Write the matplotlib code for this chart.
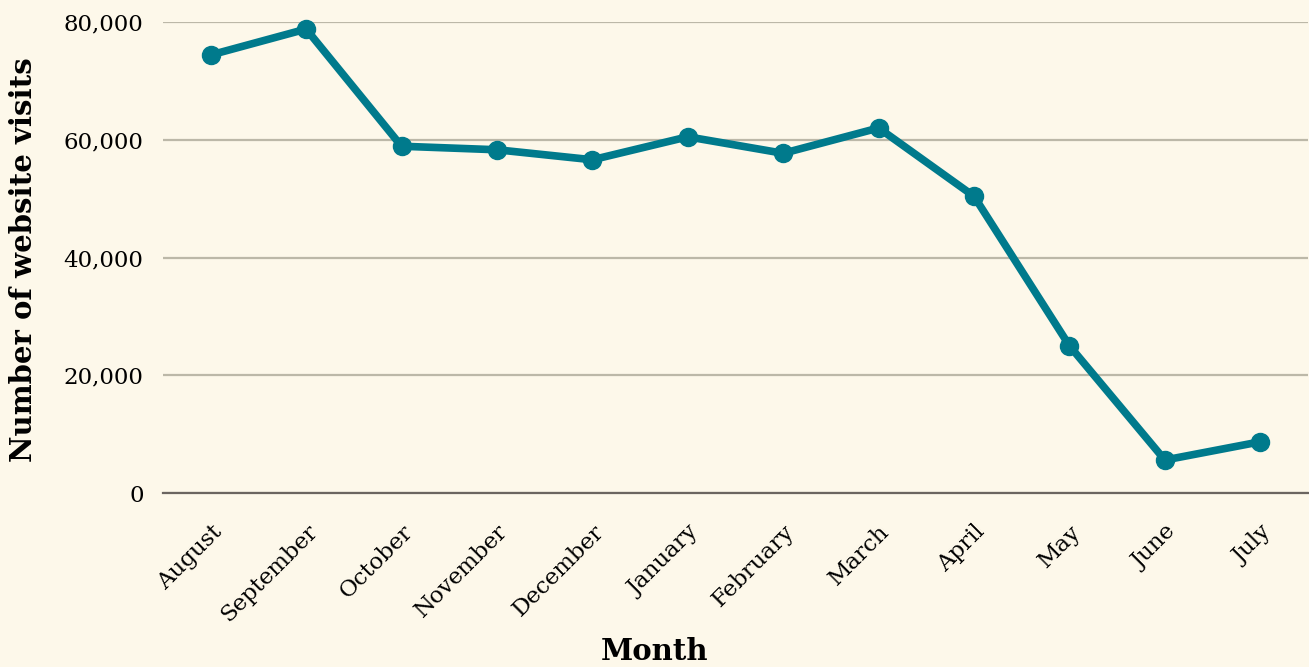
import matplotlib.pyplot as plt
import matplotlib.transforms as mtransforms

# Data
months = ['August', 'September', 'October', 'November', 'December', 'January',
          'February', 'March', 'April', 'May', 'June', 'July']
visits = [74400, 78800, 58900, 58300, 56600, 60500, 57700, 62000, 50400, 25000, 5600, 8700]
y_ticks = [0, 20000, 40000, 60000, 80000]

bg = '#fdf8ea'
teal = '#007a8c'

plt.rcParams['font.family'] = ['DejaVu Serif']

fig = plt.figure(figsize=(13.09, 6.67), dpi=100, facecolor=bg)
ax = fig.add_axes([163 / 1309, 1 - 493 / 667, (1308 - 163) / 1309, (493 - 22) / 667])
ax.set_facecolor(bg)

x = list(range(len(months)))
ax.plot(x, visits, color=teal, linewidth=5.5, marker='o', markersize=13,
        solid_capstyle='round', solid_joinstyle='round', clip_on=False, zorder=3)

ax.set_xlim(-0.5, len(months) - 0.5)
ax.set_ylim(0, 80000)
ax.set_yticks(y_ticks)
ax.set_yticklabels([f'{v:,}' for v in y_ticks], fontsize=16.5)
ax.set_xticks(x)
ax.set_xticklabels(months, fontsize=16.5, rotation=45, ha='right', rotation_mode='anchor')
offset = mtransforms.ScaledTranslation(18 / 100, 0, fig.dpi_scale_trans)
for lab in ax.get_xticklabels():
    lab.set_transform(lab.get_transform() + offset)

# gridlines
ax.grid(axis='y', color='#bcb8a8', linewidth=1.6)
ax.set_axisbelow(True)
ax.axhline(0, color='#6b6560', linewidth=1.6, zorder=2, clip_on=False)
for s in ax.spines.values():
    s.set_visible(False)
ax.tick_params(axis='both', length=0, pad=14)
ax.tick_params(axis='x', pad=20)

fig.text(0.5, 1 - 652 / 667, 'Month', fontsize=21, fontweight='bold',
         ha='center', va='center')
fig.text(24 / 1309, 1 - 260 / 667, 'Number of website visits', fontsize=21,
         fontweight='bold', rotation=90, ha='center', va='center')

fig.savefig('out.png', dpi=100, facecolor=bg)
